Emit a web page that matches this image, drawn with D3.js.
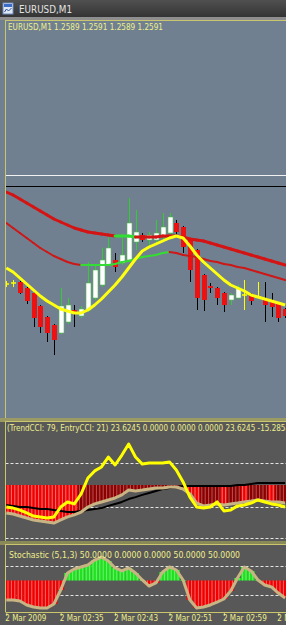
<!DOCTYPE html>
<html>
<head>
<meta charset="utf-8">
<script src="https://cdn.jsdelivr.net/npm/d3@7"></script>
<style>
  body { margin: 0; background: #3a3a3a; }
  svg { display: block; }
  text { font-family: "DejaVu Sans", "Liberation Sans", sans-serif; }
</style>
</head>
<body>
<div id="chart"></div>
<script>
// ---- data ----
const symbol = "EURUSD,M1";
const quoteLabel = "EURUSD,M1  1.2589 1.2591 1.2589 1.2591";
const cciLabel = "(TrendCCI: 79, EntryCCI: 21) 23.6245 0.0000 0.0000 0.0000 23.6245 -15.2854";
const stochLabel = "Stochastic (5,1,3) 50.0000 0.0000 0.0000 50.0000 50.0000";

const firstBar = new Date(2009, 2, 2, 2, 27);
const barCount = 42;
const barTimes = d3.range(barCount).map(i => d3.timeMinute.offset(firstBar, i));

const tickTimes = [0, 8, 16, 24, 32, 40].map(i => barTimes[i]);
const tickLabels = ["2 Mar 2009", "2 Mar 02:35", "2 Mar 02:43", "2 Mar 02:51", "2 Mar 02:59", "2 Mar 03:07"];

const opens = [1.25958,1.25960,1.25962,1.25950,1.25940,1.25914,1.25892,1.25876,1.25860,1.25882,
  1.25906,1.25894,1.25906,1.25930,1.25956,1.25996,1.26006,1.26000,1.26006,1.26042,
  1.26056,1.26046,1.26046,1.26052,1.26060,1.26080,1.26072,1.26046,1.26026,1.25976,
  1.25954,1.25950,1.25940,1.25926,1.25930,1.25936,1.25938,1.25932,1.25930,1.25926,
  1.25920,1.25908];
const highs = [1.25964,1.25966,1.25964,1.25952,1.25942,1.25916,1.25894,1.25878,1.25950,1.25930,
  1.25916,1.25914,1.26002,1.25994,1.26030,1.26052,1.26020,1.26050,1.26130,1.26106,
  1.26060,1.26062,1.26086,1.26100,1.26100,1.26086,1.26074,1.26050,1.26028,1.25978,
  1.25960,1.25952,1.25942,1.25940,1.25956,1.25966,1.25940,1.25962,1.25962,1.25940,
  1.25922,1.25910];
const lows = [1.25952,1.25952,1.25938,1.25918,1.25872,1.25860,1.25842,1.25816,1.25858,1.25878,
  1.25872,1.25890,1.25902,1.25926,1.25952,1.25994,1.25982,1.25996,1.26002,1.26026,
  1.26042,1.26030,1.26042,1.26048,1.26056,1.26052,1.26020,1.25962,1.25906,1.25904,
  1.25940,1.25916,1.25902,1.25916,1.25928,1.25906,1.25916,1.25930,1.25882,1.25892,
  1.25882,1.25890];
const closes = [1.25958,1.25960,1.25940,1.25924,1.25890,1.25872,1.25860,1.25846,1.25914,1.25916,
  1.25898,1.25908,1.25960,1.25986,1.26006,1.26030,1.25992,1.26016,1.26080,1.26062,
  1.26046,1.26056,1.26060,1.26072,1.26092,1.26062,1.26032,1.25986,1.25930,1.25926,
  1.25950,1.25930,1.25916,1.25936,1.25950,1.25936,1.25924,1.25932,1.25916,1.25912,
  1.25890,1.25894];

const maFast = [1.25990,1.25982,1.25970,1.25958,1.25946,1.25934,1.25924,1.25916,1.25908,1.25904,
  1.25900,1.25900,1.25906,1.25916,1.25928,1.25942,1.25956,1.25972,1.25990,1.26008,
  1.26024,1.26032,1.26038,1.26044,1.26050,1.26054,1.26050,1.26034,1.26016,1.26002,
  1.25990,1.25978,1.25966,1.25956,1.25950,1.25944,1.25936,1.25932,1.25928,1.25924,
  1.25920,1.25916];
const maUpper = [1.26142,1.26136,1.26128,1.26120,1.26112,1.26104,1.26096,1.26088,1.26082,1.26076,
  1.26070,1.26066,1.26062,1.26060,1.26058,1.26056,1.26054,1.26054,1.26054,1.26052,
  1.26052,1.26052,1.26052,1.26054,1.26054,1.26054,1.26052,1.26048,1.26046,1.26044,
  1.26040,1.26036,1.26032,1.26028,1.26024,1.26020,1.26016,1.26012,1.26008,1.26004,
  1.26000,1.25996];
const maLower = [1.26080,1.26070,1.26060,1.26050,1.26040,1.26030,1.26022,1.26014,1.26008,1.26002,
  1.25998,1.25996,1.25996,1.25996,1.25996,1.25996,1.25998,1.26002,1.26004,1.26008,
  1.26012,1.26014,1.26016,1.26020,1.26022,1.26020,1.26016,1.26014,1.26012,1.26008,
  1.26004,1.26002,1.25998,1.25996,1.25992,1.25990,1.25986,1.25982,1.25978,1.25974,
  1.25970,1.25966];
// 1 = line drawn in its "rising" colour (green)
const upperRising = [0,0,0,0,0,0,0,0,0,0, 0,0,0,0,0,0,0,1,1,1, 0,0,0,0,0,0,0,0,0,0, 0,0,0,0,0,0,0,0,0,0, 0,0];
const lowerRising = [0,0,0,0,0,0,0,0,0,0, 0,0,1,1,1,1,1,1,1,1, 1,1,1,1,1,0,0,0,0,0, 0,0,0,0,0,0,0,0,0,0, 0,0];
const hLines = [1.26176, 1.26154];

const trendCCI = [-100,-105,-114,-127,-141,-145,-150,-145,-100,-77,
  -86,-41,32,64,82,127,91,136,186,127,
  95,100,100,100,105,68,14,-55,-100,-105,
  -100,-77,-118,-114,-95,-91,-82,-68,-77,-86,
  -91,-100];
const entryCCI = [-127,-132,-141,-150,-159,-164,-168,-173,-159,-145,
  -136,-123,-100,-86,-77,-68,-59,-45,-23,-27,
  -23,-18,-14,-14,-9,-9,-18,-41,-82,-95,
  -91,-86,-91,-86,-82,-77,-73,-68,-73,-77,
  -77,-82];
const signalCCI = [-91,-95,-100,-100,-105,-109,-109,-114,-118,-123,
  -123,-118,-114,-109,-105,-95,-86,-77,-64,-55,
  -45,-36,-27,-18,-14,-9,-5,-5,-5,-5,
  -5,-5,-5,-5,0,0,5,9,9,9,
  9,9];
// 0 = bright red bar, 1 = dark red bar
const cciBarShade = [0,0,0,0,0,0,0,0,0,0, 0,1,1,1,1,1,1,1,1,1, 1,1,1,1,1,1,1,0,0,1, 1,1,0,1,1,0,1,1,1,0, 1,1];
const cciLevels = [100, -100, -240];

const stochMain = [16.4,16.4,14.7,7.8,4.3,2.6,2.6,9.5,33.6,62.9,
  69.8,73.3,76.7,85.3,90.5,83.6,71.6,66.4,71.6,62.9,
  50.9,40.5,45.7,64.7,73.3,68.1,50.9,16.4,2.6,4.3,
  7.8,12.9,18.1,31.9,54.3,73.3,66.4,50.9,42.2,38.8,
  28.4,19.8];
const stochLevels = [75, 25];

// ---- layout ----
const W = 286, H = 625;
const left = 5.5;
const mainTop = 20, mainBot = 418;
const cciTop = 422, cciBot = 541;
const stTop = 545, stBot = 612;
const frameCol = "#c9c66e";
const textCol = "#efef8c";

const svg = d3.select("#chart").append("svg")
  .attr("width", W).attr("height", H);
const defs = svg.append("defs");

// title bar
const tg = defs.append("linearGradient").attr("id", "titlebar")
  .attr("x1", 0).attr("y1", 0).attr("x2", 0).attr("y2", 1);
tg.append("stop").attr("offset", "0%").attr("stop-color", "#505050");
tg.append("stop").attr("offset", "100%").attr("stop-color", "#343434");
svg.append("rect").attr("width", W).attr("height", 17).attr("fill", "url(#titlebar)");
svg.append("rect").attr("x", 0).attr("y", 17).attr("width", W).attr("height", 3).attr("fill", "#8e8e8e");

// small window icon
const icon = svg.append("g").attr("transform", "translate(3,3)");
icon.append("rect").attr("width", 10).attr("height", 11).attr("fill", "#dfe8f4").attr("stroke", "#6c8cc0");
icon.append("rect").attr("x", 1).attr("y", 1).attr("width", 8).attr("height", 3).attr("fill", "#3a6cc8");
icon.append("path").attr("d", "M1.5,9 L3.5,6 L5.5,8 L8.5,5").attr("fill", "none").attr("stroke", "#2a4c98");

svg.append("text").attr("x", 19).attr("y", 13)
  .attr("font-size", 11).attr("fill", "#e2e2e2")
  .attr("textLength", 53).attr("lengthAdjust", "spacingAndGlyphs")
  .text(symbol);

// pane backgrounds
svg.append("rect").attr("x", 0).attr("y", mainTop).attr("width", W).attr("height", mainBot - mainTop).attr("fill", "#708090");
svg.append("rect").attr("x", 0).attr("y", mainBot).attr("width", W).attr("height", cciTop - mainBot).attr("fill", "#9a9a62");
svg.append("rect").attr("x", 0).attr("y", cciTop).attr("width", W).attr("height", cciBot - cciTop).attr("fill", "#585858");
svg.append("rect").attr("x", 0).attr("y", cciBot).attr("width", W).attr("height", stTop - cciBot).attr("fill", "#8a8a58");
svg.append("rect").attr("x", 0).attr("y", stTop).attr("width", W).attr("height", H - stTop).attr("fill", "#585858");

function clipFor(id, y0, y1) {
  defs.append("clipPath").attr("id", id)
    .append("rect").attr("x", left + 0.5).attr("y", y0).attr("width", W - left).attr("height", y1 - y0);
  return "url(#" + id + ")";
}

// ---- scales ----
const x = d3.scaleTime().domain([barTimes[0], barTimes[barCount - 1]]).range([6.3, 285.1]);
const yPrice = d3.scaleLinear().domain([1.2589, 1.2629]).range([318, 118]);
const yCCI = d3.scaleLinear().domain([-100, 100]).range([507, 463]);
const ySt = d3.scaleLinear().domain([25, 75]).range([595, 566]);

const step = x(barTimes[1]) - x(barTimes[0]);

// coloured multi-segment line: segment i-1 -> i uses colour of bar i
function segLine(g, values, flags, colA, colB, width, yScale) {
  for (let i = 1; i < values.length; i++) {
    g.append("line")
      .attr("x1", x(barTimes[i - 1])).attr("y1", yScale(values[i - 1]))
      .attr("x2", x(barTimes[i])).attr("y2", yScale(values[i]))
      .attr("stroke", flags[i] ? colB : colA)
      .attr("stroke-width", width)
      .attr("stroke-linecap", "round");
  }
}

function plainLine(g, values, col, width, yScale) {
  g.append("path")
    .datum(values)
    .attr("d", d3.line().x((d, i) => x(barTimes[i])).y(d => yScale(d)))
    .attr("fill", "none").attr("stroke", col)
    .attr("stroke-width", width).attr("stroke-linejoin", "round");
}

// striped histogram bar (two light stripes per bar like MT4 resampled)
function histBars(g, values, base, yScale, colorFn, stripeCol) {
  values.forEach((v, i) => {
    const cx = x(barTimes[i]);
    const y0 = yScale(base), y1 = yScale(v);
    const top = Math.min(y0, y1), h = Math.abs(y1 - y0);
    g.append("rect").attr("x", cx - step / 2).attr("y", top)
      .attr("width", step + 0.1).attr("height", h).attr("fill", colorFn(i));
    [-step / 4, step / 4].forEach(off => {
      g.append("rect").attr("x", cx + off - 0.5).attr("y", top)
        .attr("width", 1).attr("height", h).attr("fill", stripeCol(i));
    });
  });
}

// ---- main pane ----
const main = svg.append("g").attr("clip-path", clipFor("cm", mainTop, mainBot));

main.selectAll(".hl").data(hLines).enter().append("line")
  .attr("x1", left).attr("x2", W)
  .attr("y1", d => Math.round(yPrice(d)) + 0.5).attr("y2", d => Math.round(yPrice(d)) + 0.5)
  .attr("stroke", (d, i) => i === 0 ? "#f2f2f2" : "#000000").attr("stroke-width", 1);

const candles = barTimes.map((t, i) => ({ t, o: opens[i], h: highs[i], l: lows[i], c: closes[i] }));
const cg = main.append("g");
candles.forEach(d => {
  const cx = Math.round(x(d.t)) + 0.5;
  const doji = d.o === d.c;
  const bull = d.c > d.o;
  const wickCol = doji ? "#ffff00" : (bull ? "#33cc33" : "#000000");
  cg.append("line").attr("x1", cx).attr("x2", cx)
    .attr("y1", yPrice(d.h)).attr("y2", yPrice(d.l))
    .attr("stroke", wickCol).attr("stroke-width", 1);
  if (doji) {
    cg.append("line").attr("x1", cx - 2.5).attr("x2", cx + 2.5)
      .attr("y1", yPrice(d.o)).attr("y2", yPrice(d.o))
      .attr("stroke", "#ffff00").attr("stroke-width", 1.5);
  } else {
    const yt = yPrice(Math.max(d.o, d.c)), yb = yPrice(Math.min(d.o, d.c));
    cg.append("rect").attr("x", cx - 2.5).attr("y", yt)
      .attr("width", 5).attr("height", Math.max(1, yb - yt))
      .attr("fill", bull ? "#ffffff" : "#ee1111")
      .attr("stroke", bull ? "#55bb55" : "none").attr("stroke-width", 0.6);
  }
});

segLine(main, maUpper, upperRising, "#d41414", "#33dd33", 3, yPrice);
segLine(main, maLower, lowerRising, "#cc1818", "#33dd33", 2, yPrice);
plainLine(main, maFast, "#ffff10", 3, yPrice);

svg.append("text").attr("x", 8).attr("y", 29.5)
  .attr("font-size", 8.5).attr("fill", textCol)
  .attr("textLength", 155).attr("lengthAdjust", "spacingAndGlyphs")
  .text(quoteLabel);

// ---- CCI pane ----
const cci = svg.append("g").attr("clip-path", clipFor("cc", cciTop, cciBot));
cci.selectAll(".lv").data(cciLevels).enter().append("line")
  .attr("x1", left).attr("x2", W)
  .attr("y1", d => Math.round(yCCI(d)) + 0.5).attr("y2", d => Math.round(yCCI(d)) + 0.5)
  .attr("stroke", "#e4e4e4").attr("stroke-dasharray", "3,2");
histBars(cci, entryCCI, 0, yCCI,
  i => cciBarShade[i] ? "#8a0000" : "#f00000",
  i => cciBarShade[i] ? "rgba(230,150,150,0.55)" : "rgba(255,190,190,0.6)");
plainLine(cci, signalCCI, "#000000", 2, yCCI);
plainLine(cci, entryCCI, "#c9b483", 3, yCCI);
plainLine(cci, trendCCI, "#ffff00", 3, yCCI);

svg.append("text").attr("x", 7).attr("y", 431)
  .attr("font-size", 8.5).attr("fill", textCol)
  .attr("textLength", 283).attr("lengthAdjust", "spacingAndGlyphs")
  .text(cciLabel);

// ---- Stochastic pane ----
const st = svg.append("g").attr("clip-path", clipFor("cs", stTop, stBot));
st.selectAll(".lv").data(stochLevels).enter().append("line")
  .attr("x1", left).attr("x2", W)
  .attr("y1", d => Math.round(ySt(d)) + 0.5).attr("y2", d => Math.round(ySt(d)) + 0.5)
  .attr("stroke", "#e4e4e4").attr("stroke-dasharray", "3,2");
histBars(st, stochMain, 50, ySt,
  i => stochMain[i] >= 50 ? "#22e022" : "#f00000",
  i => stochMain[i] >= 50 ? "rgba(190,255,190,0.5)" : "rgba(255,190,190,0.55)");
plainLine(st, stochMain, "#c9b483", 3, ySt);

svg.append("text").attr("x", 9).attr("y", 558)
  .attr("font-size", 8.5).attr("fill", textCol)
  .attr("textLength", 231).attr("lengthAdjust", "spacingAndGlyphs")
  .text(stochLabel);

// ---- frame lines ----
[mainTop, cciTop - 1, stTop - 1].forEach(y => {
  svg.append("line").attr("x1", left).attr("x2", W).attr("y1", y + 0.5).attr("y2", y + 0.5)
    .attr("stroke", frameCol);
});
[[mainTop, mainBot], [cciTop - 1, cciBot], [stTop - 1, stBot]].forEach(([a, b]) => {
  svg.append("line").attr("x1", left).attr("x2", left).attr("y1", a).attr("y2", b)
    .attr("stroke", frameCol);
});

// ---- time axis ----
const axisG = svg.append("g").attr("transform", "translate(0," + stBot + ")")
  .call(d3.axisBottom(x).tickValues(tickTimes).tickSize(4)
    .tickFormat((d, i) => tickLabels[i]));
axisG.select(".domain").attr("stroke", frameCol).attr("d", "M" + left + ",0.5H" + W);
axisG.selectAll(".tick line").attr("stroke", frameCol);
axisG.selectAll(".tick text")
  .attr("fill", textCol).attr("font-size", 8.5)
  .attr("text-anchor", "start").attr("x", -1.5).attr("y", 2.5).attr("dy", "0.71em")
  .attr("textLength", (d, i) => i === 0 ? 41 : 44)
  .attr("lengthAdjust", "spacingAndGlyphs")
  .style("font-family", "DejaVu Sans, Liberation Sans, sans-serif");
</script>
</body>
</html>
